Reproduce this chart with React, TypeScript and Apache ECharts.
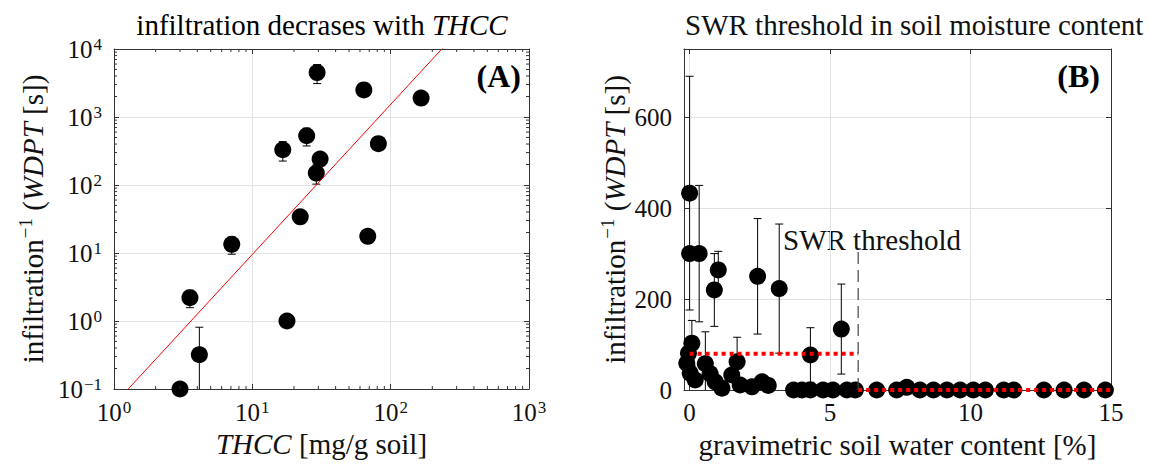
import React, { useEffect, useRef } from 'react';
import * as echarts from 'echarts';

// ---------- Panel A data ----------
const thccA = [29.4, 64, 166, 24.7, 16.6, 30.9, 29, 81.5, 22.2, 68.3, 7.1, 3.54, 17.8, 4.14, 3.0];
const wdptA = [4500, 2500, 1900, 530, 330, 241, 150, 405, 34, 17.6, 13.4, 2.2, 1.0, 0.32, 0.1];
const errA = [1400, 0, 0, 155, 105, 0, 47, 0, 0, 0, 3.8, 0.63, 0, 0.49, 0];
const fitA = { a: 0.0593, b: 2.206 };

// ---------- Panel B data ----------
const swcB = [0.0, 0.0, 0.34, 0.88, 1.02, 2.42, 3.19, 4.3, 5.4, 0.08, 0.56, 1.69,
  -0.04, -0.1, 0.02, 0.2, 0.73, 0.91, 1.15, 1.5, 1.8, 2.22, 2.58, 2.8,
  3.7, 4.0, 4.3, 4.75, 5.1, 5.6, 5.9, 6.66, 7.37, 7.73, 8.2, 8.68, 9.16, 9.63, 10.1, 10.53, 11.18, 11.54, 12.61, 13.33, 14.04, 14.8];
const wdptB = [433, 300, 300, 220, 264, 250, 223, 77, 134, 103, 58, 62,
  81, 59, 37, 22, 36, 18, 4, 33, 11, 7, 18, 10,
  0, 0, 0, 0, 0, 0, 0, 0, 0, 6, 0, 0, 0, 0, 0, 0, 0, 0, 0, 0, 0, 0];
const errB = [257, 0, 150, 80, 41, 127, 142, 60, 99, 50, 70, 54,
  0, 0, 0, 0, 0, 0, 0, 0, 0, 0, 0, 0,
  0, 0, 0, 0, 0, 0, 0, 0, 0, 0, 0, 0, 0, 0, 0, 0, 0, 0, 0, 0, 0, 0];
const swrThreshold = 6;
const meanBelow = 80;
const meanAbove = 0;
const xRangeB = [0, 15];
const thresholdLineTop = 305;
const xTicksB = [0, 5, 10, 15];
const yTicksB = [0, 200, 400, 600];

const FONT = 'Liberation Serif';
const TXT = '#111';
const AX = '#333';
const GRID = '#e2e2e2';
const NAME_FS = 29;

const A_XMIN = 1, A_XMAX = 1000, A_YMIN = 0.1, A_YMAX = 10000;
const B_XMIN = -0.2, B_XMAX = 15, B_YMIN = 0, B_YMAX = 750;

const logLabel = (v: number) => {
  const e = Math.round(Math.log10(v));
  return `{b|10}{e|${e < 0 ? '\u2212' + -e : e}}`;
};
const richLog = {
  b: { fontSize: 25, fontFamily: FONT, color: TXT },
  e: { fontSize: 17, fontFamily: FONT, color: TXT, verticalAlign: 'top', padding: [0, 0, 10, 1] },
};
const richName = {
  n: { fontSize: NAME_FS, fontFamily: FONT, color: TXT },
  i: { fontSize: NAME_FS, fontFamily: FONT, color: TXT, fontStyle: 'italic' },
  s: { fontSize: 19, fontFamily: FONT, color: TXT, padding: [0, 0, 15, 1] },
};

const minorLog = (lo: number, hi: number) => {
  const out: number[] = [];
  for (let d = lo; d < hi; d *= 10) for (let k = 2; k <= 9; k++) out.push(d * k);
  return out;
};

export default function App() {
  const ref = useRef<HTMLDivElement>(null);
  useEffect(() => {
    document.body.style.margin = '0';
    const chart = echarts.init(ref.current!, undefined, { renderer: 'svg' });

    const fitData = [A_XMIN, A_XMAX].map((x) => [x, fitA.a * Math.pow(x, fitA.b)]);

    const axisLineCommon = { show: true, onZero: false, lineStyle: { color: AX, width: 1 } };
    const tickIn = { show: true, inside: true, length: 5, lineStyle: { color: AX, width: 1 } };

    const errRender = (ymin: number, log: boolean) => (params: any, api: any) => {
      const x = api.value(0), y = api.value(1), e = api.value(2);
      if (!e) return null;
      let lo = y - e;
      let clamped = false;
      if (log ? lo <= ymin : lo < ymin) { lo = ymin; clamped = true; }
      const t = api.coord([x, y + e]);
      const b = api.coord([x, lo]);
      const w = 4;
      const st = { stroke: '#000', lineWidth: 1 };
      const ch: any[] = [
        { type: 'line', shape: { x1: t[0], y1: t[1], x2: b[0], y2: b[1] }, style: st },
        { type: 'line', shape: { x1: t[0] - w, y1: t[1], x2: t[0] + w, y2: t[1] }, style: st },
      ];
      if (!clamped) ch.push({ type: 'line', shape: { x1: b[0] - w, y1: b[1], x2: b[0] + w, y2: b[1] }, style: st });
      return { type: 'group', children: ch };
    };

    const option: any = {
      animation: false,
      grid: [
        { left: 114, top: 49, width: 415, height: 340 },
        { left: 684, top: 49, width: 427, height: 341 },
      ],
      xAxis: [
        {
          gridIndex: 0, type: 'log', logBase: 10, min: A_XMIN, max: A_XMAX, position: 'bottom',
          axisLine: axisLineCommon, axisTick: tickIn,
          axisLabel: { formatter: logLabel, rich: richLog, margin: 10 },
          splitLine: { show: true, lineStyle: { color: GRID, width: 1 } },
          name: '{i|THCC}{n| [mg/g soil]}', nameLocation: 'middle', nameGap: 40,
          nameTextStyle: { rich: richName },
        },
        {
          gridIndex: 0, type: 'log', logBase: 10, min: A_XMIN, max: A_XMAX, position: 'top',
          axisLine: axisLineCommon, axisTick: tickIn, axisLabel: { show: false }, splitLine: { show: false },
        },
        {
          gridIndex: 1, type: 'value', min: B_XMIN, max: B_XMAX, splitNumber: 3, position: 'bottom',
          axisLine: axisLineCommon, axisTick: tickIn,
          axisLabel: {
            fontSize: 25, fontFamily: FONT, color: TXT, margin: 10,
            formatter: (v: number) => (xTicksB.some((t) => Math.abs(t - v) < 1e-6) ? String(Math.round(v)) : ''),
          },
          splitLine: { show: true, lineStyle: { color: GRID, width: 1 } },
          name: '{n|gravimetric soil water content [%]}', nameLocation: 'middle', nameGap: 40,
          nameTextStyle: { rich: richName },
        },
        {
          gridIndex: 1, type: 'value', min: B_XMIN, max: B_XMAX, splitNumber: 3, position: 'top',
          axisLine: axisLineCommon, axisTick: tickIn, axisLabel: { show: false }, splitLine: { show: false },
        },
      ],
      yAxis: [
        {
          gridIndex: 0, type: 'log', logBase: 10, min: A_YMIN, max: A_YMAX, position: 'left',
          axisLine: axisLineCommon, axisTick: tickIn,
          axisLabel: { formatter: logLabel, rich: richLog, margin: 12 },
          splitLine: { show: true, lineStyle: { color: GRID, width: 1 } },
          name: '{n|infiltration}{s|\u22121}{n| (}{i|WDPT}{n| [s])}', nameLocation: 'middle', nameGap: 64,
          nameTextStyle: { rich: richName },
        },
        {
          gridIndex: 0, type: 'log', logBase: 10, min: A_YMIN, max: A_YMAX, position: 'right',
          axisLine: axisLineCommon, axisTick: tickIn, axisLabel: { show: false }, splitLine: { show: false },
        },
        {
          gridIndex: 1, type: 'value', min: B_YMIN, max: B_YMAX, interval: 200, position: 'left',
          axisLine: axisLineCommon, axisTick: tickIn,
          axisLabel: {
            fontSize: 25, fontFamily: FONT, color: TXT, margin: 12,
            formatter: (v: number) => (yTicksB.includes(v) ? String(v) : ''),
          },
          splitLine: { show: true, lineStyle: { color: GRID, width: 1 } },
          name: '{n|infiltration}{s|\u22121}{n| (}{i|WDPT}{n| [s])}', nameLocation: 'middle', nameGap: 52,
          nameTextStyle: { rich: richName },
        },
        {
          gridIndex: 1, type: 'value', min: B_YMIN, max: B_YMAX, interval: 200, position: 'right',
          axisLine: axisLineCommon, axisTick: tickIn, axisLabel: { show: false }, splitLine: { show: false },
        },
      ],
      series: [
        {
          type: 'custom', xAxisIndex: 0, yAxisIndex: 0, silent: true, z: 3,
          data: thccA.map((x, i) => [x, wdptA[i], errA[i]]),
          renderItem: errRender(A_YMIN, true), clip: true,
        },
        {
          type: 'scatter', xAxisIndex: 0, yAxisIndex: 0, symbol: 'circle', symbolSize: 17, z: 4,
          itemStyle: { color: '#000', opacity: 1 }, data: thccA.map((x, i) => [x, wdptA[i]]),
        },
        {
          type: 'line', xAxisIndex: 0, yAxisIndex: 0, symbol: 'none', clip: true, z: 5,
          lineStyle: { color: '#ff0000', width: 1 }, data: fitData,
        },
        {
          type: 'custom', xAxisIndex: 0, yAxisIndex: 0, silent: true, z: 6,
          data: minorLog(A_XMIN, A_XMAX).map((v) => [v, 1]),
          renderItem: (p: any, api: any) => {
            const v = api.value(0);
            const b = api.coord([v, A_YMIN]);
            const t = api.coord([v, A_YMAX]);
            const st = { stroke: AX, lineWidth: 1 };
            return {
              type: 'group', children: [
                { type: 'line', shape: { x1: b[0], y1: b[1], x2: b[0], y2: b[1] - 3 }, style: st },
                { type: 'line', shape: { x1: t[0], y1: t[1], x2: t[0], y2: t[1] + 3 }, style: st },
              ],
            };
          },
        },
        {
          type: 'custom', xAxisIndex: 0, yAxisIndex: 0, silent: true, z: 6,
          data: minorLog(A_YMIN, A_YMAX).map((v) => [10, v]),
          renderItem: (p: any, api: any) => {
            const v = api.value(1);
            const l = api.coord([A_XMIN, v]);
            const r = api.coord([A_XMAX, v]);
            const st = { stroke: AX, lineWidth: 1 };
            return {
              type: 'group', children: [
                { type: 'line', shape: { x1: l[0], y1: l[1], x2: l[0] + 3, y2: l[1] }, style: st },
                { type: 'line', shape: { x1: r[0], y1: r[1], x2: r[0] - 3, y2: r[1] }, style: st },
              ],
            };
          },
        },
        {
          type: 'custom', xAxisIndex: 2, yAxisIndex: 2, silent: true, z: 3,
          data: swcB.map((x, i) => [x, wdptB[i], errB[i]]),
          renderItem: errRender(B_YMIN, false), clip: true,
        },
        {
          type: 'scatter', xAxisIndex: 2, yAxisIndex: 2, symbol: 'circle', symbolSize: 17, z: 4,
          itemStyle: { color: '#000', opacity: 1 }, data: swcB.map((x, i) => [x, wdptB[i]]),
        },
        {
          type: 'line', xAxisIndex: 2, yAxisIndex: 2, symbol: 'none', z: 5,
          lineStyle: { color: '#ff0000', width: 4, type: [4, 4] },
          data: [[xRangeB[0], meanBelow], [swrThreshold, meanBelow]],
        },
        {
          type: 'line', xAxisIndex: 2, yAxisIndex: 2, symbol: 'none', z: 5,
          lineStyle: { color: '#ff0000', width: 4, type: [4, 4] },
          data: [[swrThreshold, meanAbove], [xRangeB[1], meanAbove]],
        },
        {
          type: 'line', xAxisIndex: 2, yAxisIndex: 2, symbol: 'none', z: 5,
          lineStyle: { color: '#444', width: 1.2, type: [12, 6] },
          data: [[swrThreshold, B_YMIN], [swrThreshold, thresholdLineTop]],
        },
      ],
      graphic: [
        {
          type: 'text', x: 322, y: 25, style: {
            text: '{n|infiltration decrases with }{i|THCC}', textAlign: 'center', textVerticalAlign: 'middle',
            rich: richName,
          },
        },
        {
          type: 'text', x: 685, y: 25, style: {
            text: 'SWR threshold in soil moisture content', textAlign: 'left', textVerticalAlign: 'middle',
            fontSize: NAME_FS, fontFamily: FONT, fill: TXT,
          },
        },
        {
          type: 'text', x: 521, y: 76, style: {
            text: '(A)', textAlign: 'right', textVerticalAlign: 'middle',
            fontSize: 32, fontWeight: 'bold', fontFamily: FONT, fill: '#000',
          },
        },
        {
          type: 'text', x: 1100, y: 76, style: {
            text: '(B)', textAlign: 'right', textVerticalAlign: 'middle',
            fontSize: 32, fontWeight: 'bold', fontFamily: FONT, fill: '#000',
          },
        },
        {
          type: 'text', x: 783, y: 240, style: {
            text: 'SWR threshold', textAlign: 'left', textVerticalAlign: 'middle',
            fontSize: 29, fontFamily: FONT, fill: TXT,
          },
        },
      ],
    };
    chart.setOption(option);
    return () => chart.dispose();
  }, []);
  return <div ref={ref} style={{ width: 1149, height: 464 }} />;
}
